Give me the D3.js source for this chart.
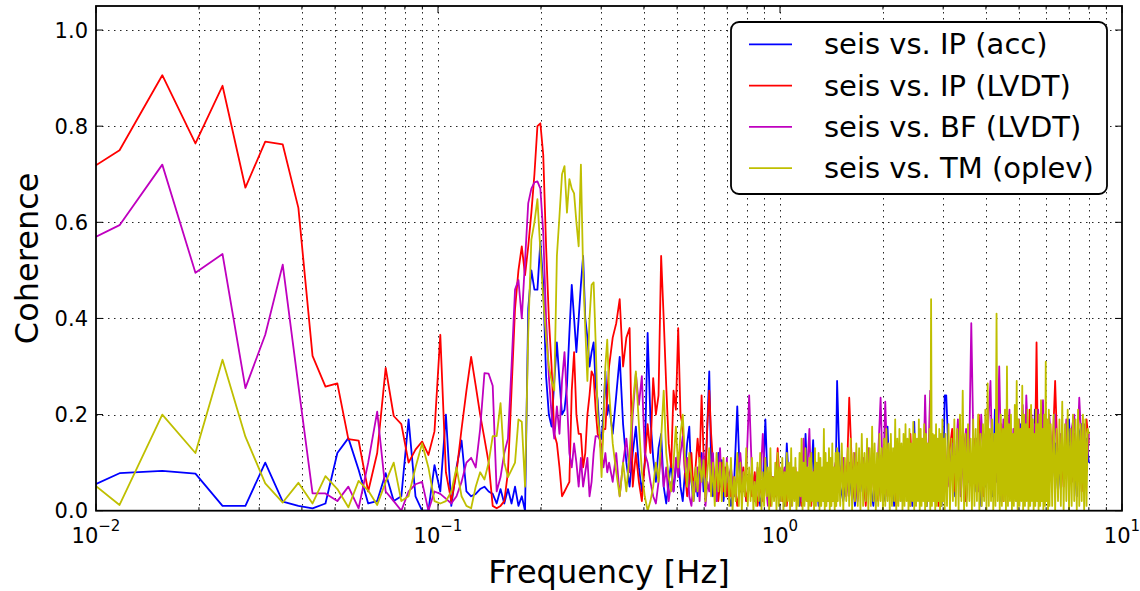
<!DOCTYPE html>
<html>
<head>
<meta charset="utf-8">
<script src="https://cdn.jsdelivr.net/npm/d3@7"></script>
<style>
  body { margin: 0; background: #fff; }
  text { font-family: "DejaVu Sans", sans-serif; fill: #000; }
</style>
</head>
<body>
<div id="chart"></div>
<script>
// coherence spectra, FFT bins of 1/256 Hz --------------------------------------------
var binWidth = 1 / 256;

// low frequency part: one value per bin, bins 2..80
var lowFirstBin = 2;

var blueLow = [0.02,0.078,0.083,0.077,0.01,0.01,0.10,0.019,0.01,0.005,
  0.015,0.12,0.151,0.085,0.015,0.02,0.078,0.02,0.03,0.19,
  0.03,0.0,0.0,0.095,0.04,0.2,0.01,0.09,0.146,0.04,
  0.03,0.035,0.045,0.05,0.04,0.035,0.015,0.045,0.015,0.045,
  0.015,0.05,0.01,0.03,0.0,0.42,0.50,0.46,0.46,0.56,
  0.47,0.28,0.2,0.175,0.27,0.35,0.27,0.2,0.21,0.26,
  0.37,0.47,0.40,0.33,0.40,0.47,0.53,0.40,0.36,0.30,
  0.33,0.35,0.26,0.23,0.16,0.15,0.2,0.29,0.20];

var redLow = [0.67,0.75,0.906,0.764,0.884,0.672,0.768,0.762,0.63,0.322,
  0.258,0.265,0.149,0.146,0.04,0.12,0.297,0.197,0.18,0.10,
  0.127,0.144,0.116,0.165,0.366,0.08,0.02,0.08,0.17,0.25,
  0.32,0.26,0.20,0.15,0.10,0.01,0.005,0.01,0.02,0.08,
  0.25,0.42,0.50,0.55,0.49,0.55,0.62,0.70,0.80,0.806,
  0.74,0.55,0.40,0.30,0.16,0.14,0.09,0.03,0.04,0.05,
  0.06,0.25,0.33,0.20,0.16,0.16,0.09,0.12,0.20,0.24,
  0.29,0.28,0.21,0.16,0.15,0.12,0.17,0.17,0.24];

var magentaLow = [0.533,0.594,0.72,0.495,0.534,0.255,0.366,0.512,0.26,0.036,
  0.036,0.02,0.05,0.005,0.10,0.206,0.04,0.02,0.0,0.04,
  0.055,0.06,0.0,0.04,0.035,0.025,0.015,0.03,0.06,0.10,
  0.11,0.09,0.17,0.286,0.285,0.26,0.04,0.07,0.12,0.15,
  0.30,0.46,0.48,0.40,0.52,0.64,0.67,0.683,0.685,0.67,
  0.578,0.40,0.28,0.20,0.15,0.217,0.16,0.27,0.33,0.23,
  0.12,0.09,0.14,0.10,0.05,0.11,0.05,0.08,0.11,0.03,
  0.06,0.12,0.155,0.155,0.15,0.12,0.09,0.12,0.08];

var yellowLow = [0.112,0.012,0.20,0.12,0.314,0.154,0.057,0.017,0.058,0.015,
  0.072,0.045,0.007,0.062,0.042,0.012,0.06,0.10,0.02,0.03,
  0.09,0.14,0.09,0.02,0.015,0.02,0.04,0.09,0.03,0.01,
  0.005,0.05,0.08,0.065,0.10,0.155,0.155,0.224,0.10,0.07,
  0.085,0.10,0.19,0.185,0.05,0.37,0.564,0.60,0.648,0.54,
  0.44,0.36,0.30,0.27,0.25,0.53,0.613,0.70,0.717,0.62,
  0.69,0.67,0.66,0.60,0.55,0.72,0.50,0.38,0.27,0.40,
  0.47,0.475,0.35,0.20,0.16,0.07,0.18,0.30,0.356];

// dense part (0.32 - 8 Hz): every step-th bin, in blocks
// blue, red, magenta are kept coarser; yellow (drawn on top) finer
var coarseStart = [81, 180, 384, 784, 1600];
var coarseStep  = [2, 4, 8, 16, 32];
var coarseCount = [50, 50, 50, 50, 15];

var fineStart = [81, 180, 380, 780, 1584];
var fineStep  = [2, 2, 4, 8, 16];
var fineCount = [50, 100, 100, 100, 30];

var blueDense = [
  0.22,0.16,0.24,0.32,0.18,0.10,0.05,0.12,0.175,0.09,0.04,0.10,0.37,0.19,0.11,0.06,0.13,0.16,0.05,0.015,
  0.06,0.10,0.04,0.09,0.12,0.05,0.02,0.08,0.14,0.175,0.06,0.02,0.07,0.03,0.09,0.12,0.04,0.08,0.18,0.29,
  0.10,0.03,0.07,0.02,0.12,0.05,0.105,0.02,0.06,0.03,
  0.05,0.01,0.06,0.217,0.04,0.07,0.02,0.05,0.08,0.03,0.06,0.01,0.05,0.19,0.04,0.02,0.07,0.03,0.06,0.04,
  0.05,0.01,0.14,0.05,0.02,0.07,0.03,0.06,0.01,0.05,0.04,0.16,0.06,0.02,0.07,0.147,0.03,0.06,0.01,0.05,
  0.07,0.02,0.06,0.04,0.07,0.01,0.06,0.08,0.03,0.27,
  0.05,0.02,0.08,0.03,0.09,0.01,0.07,0.04,0.10,0.02,0.08,0.05,0.01,0.08,0.03,0.09,0.06,0.02,0.175,0.04,
  0.09,0.01,0.08,0.05,0.10,0.02,0.08,0.03,0.09,0.06,0.01,0.185,0.04,0.10,0.02,0.09,0.05,0.09,0.01,0.10,
  0.03,0.08,0.12,0.02,0.10,0.04,0.09,0.01,0.07,0.24,
  0.24,0.08,0.13,0.03,0.11,0.06,0.15,0.02,0.10,0.07,0.14,0.04,0.12,0.01,0.16,0.05,0.09,0.13,0.03,0.21,
  0.06,0.11,0.02,0.14,0.08,0.17,0.04,0.12,0.07,0.15,0.02,0.10,0.18,0.05,0.13,0.08,0.16,0.03,0.12,0.06,
  0.21,0.09,0.14,0.04,0.17,0.07,0.12,0.03,0.15,0.08,
  0.07,0.14,0.04,0.12,0.08,0.15,0.19,0.06,0.13,0.03,0.16,0.18,0.07,0.15,0.10];

var redDense = [
  0.30,0.36,0.39,0.44,0.30,0.36,0.38,0.05,0.12,0.06,0.02,0.10,0.18,0.12,0.276,0.20,0.24,0.53,0.40,0.26,
  0.14,0.09,0.25,0.21,0.38,0.20,0.175,0.08,0.03,0.06,0.12,0.04,0.09,0.15,0.10,0.24,0.12,0.07,0.18,0.25,
  0.16,0.10,0.03,0.08,0.02,0.06,0.10,0.04,0.09,0.03,
  0.08,0.03,0.07,0.01,0.05,0.09,0.02,0.06,0.03,0.08,0.01,0.05,0.02,0.07,0.04,0.01,0.07,0.03,0.13,0.05,
  0.02,0.06,0.01,0.08,0.03,0.05,0.09,0.02,0.06,0.01,0.04,0.08,0.02,0.05,0.01,0.07,0.09,0.03,0.06,0.02,
  0.08,0.04,0.01,0.07,0.03,0.09,0.02,0.05,0.01,0.08,
  0.06,0.10,0.03,0.235,0.08,0.02,0.10,0.05,0.09,0.01,0.11,0.04,0.09,0.06,0.02,0.10,0.07,0.11,0.03,0.09,
  0.05,0.10,0.01,0.08,0.11,0.04,0.10,0.06,0.02,0.16,0.07,0.11,0.03,0.12,0.05,0.15,0.09,0.02,0.12,0.06,
  0.10,0.03,0.13,0.07,0.11,0.01,0.09,0.12,0.04,0.12,
  0.06,0.12,0.17,0.04,0.10,0.07,0.14,0.02,0.11,0.08,0.15,0.05,0.20,0.09,0.03,0.13,0.06,0.16,0.10,0.04,
  0.14,0.07,0.18,0.02,0.12,0.09,0.16,0.05,0.13,0.08,0.19,0.03,0.14,0.10,0.17,0.06,0.12,0.21,0.04,0.15,
  0.09,0.35,0.07,0.16,0.11,0.05,0.18,0.10,0.14,0.06,
  0.10,0.27,0.08,0.15,0.05,0.17,0.11,0.06,0.16,0.09,0.14,0.04,0.12,0.19,0.14];

var magentaDense = [
  0.10,0.06,0.12,0.03,0.10,0.15,0.08,0.20,0.285,0.22,0.28,0.12,0.10,0.06,0.03,0.015,0.06,0.12,0.05,0.09,
  0.02,0.06,0.04,0.11,0.07,0.12,0.154,0.08,0.11,0.03,0.01,0.06,0.04,0.09,0.02,0.10,0.12,0.01,0.06,0.04,
  0.09,0.12,0.05,0.02,0.08,0.13,0.04,0.09,0.03,0.11,
  0.06,0.09,0.03,0.08,0.12,0.04,0.08,0.24,0.07,0.02,0.09,0.05,0.16,0.06,0.01,0.08,0.03,0.07,0.05,0.02,
  0.07,0.09,0.04,0.08,0.01,0.06,0.08,0.03,0.07,0.02,0.15,0.05,0.09,0.17,0.04,0.08,0.02,0.09,0.05,0.08,
  0.03,0.07,0.09,0.02,0.06,0.08,0.04,0.08,0.10,0.05,
  0.08,0.11,0.03,0.10,0.05,0.12,0.02,0.09,0.11,0.04,0.13,0.06,0.11,0.02,0.12,0.235,0.05,0.227,0.08,0.03,
  0.12,0.06,0.13,0.02,0.10,0.12,0.04,0.13,0.07,0.01,0.12,0.05,0.13,0.03,0.11,0.14,0.06,0.24,0.09,0.13,
  0.25,0.04,0.12,0.07,0.13,0.02,0.10,0.13,0.05,0.15,
  0.10,0.05,0.14,0.08,0.19,0.03,0.12,0.17,0.06,0.39,0.09,0.15,0.04,0.20,0.11,0.07,0.18,0.27,0.05,0.16,
  0.10,0.30,0.08,0.19,0.03,0.14,0.21,0.06,0.17,0.10,0.04,0.19,0.12,0.22,0.07,0.24,0.15,0.05,0.20,0.11,
  0.18,0.06,0.21,0.09,0.15,0.23,0.04,0.17,0.12,0.20,
  0.12,0.20,0.07,0.16,0.10,0.19,0.05,0.17,0.20,0.09,0.235,0.13,0.18,0.08,0.16];

var yellowDense = [
  // 0.32 - 0.70 Hz
  0.25,0.14,0.08,0.03,0.10,0.04,0.12,0.22,0.29,0.18,0.08,0.03,0.0,0.02,0.05,0.10,0.06,0.15,0.25,0.12,
  0.07,0.04,0.10,0.175,0.09,0.16,0.20,0.11,0.05,0.12,0.07,0.02,0.09,0.04,0.11,0.06,0.105,0.02,0.08,0.13,
  0.03,0.10,0.01,0.12,0.04,0.10,0.02,0.11,0.03,0.10,
  // 0.70 - 1.48 Hz
  0.09,0.01,0.11,0.0,0.07,0.02,0.12,0.01,0.10,0.0,0.08,0.03,0.13,0.01,0.09,0.02,0.11,0.0,0.06,0.01,
  0.10,0.02,0.12,0.0,0.08,0.01,0.11,0.03,0.09,0.0,0.13,0.01,0.07,0.02,0.10,0.0,0.12,0.01,0.09,0.02,
  0.11,0.0,0.08,0.01,0.12,0.02,0.10,0.0,0.13,0.01,0.09,0.02,0.11,0.0,0.08,0.01,0.12,0.03,0.15,0.0,
  0.10,0.01,0.13,0.02,0.09,0.0,0.11,0.01,0.12,0.02,0.08,0.0,0.13,0.01,0.10,0.02,0.12,0.0,0.11,0.01,
  0.09,0.02,0.17,0.0,0.12,0.01,0.10,0.02,0.13,0.0,0.11,0.01,0.14,0.02,0.09,0.0,0.12,0.01,0.13,0.02,
  // 1.48 - 3.03 Hz
  0.12,0.01,0.14,0.0,0.11,0.02,0.13,0.01,0.15,0.0,0.12,0.02,0.14,0.01,0.13,0.0,0.16,0.01,0.12,0.02,
  0.15,0.0,0.13,0.01,0.175,0.02,0.14,0.0,0.12,0.01,0.16,0.02,0.13,0.0,0.15,0.01,0.17,0.02,0.14,0.0,
  0.16,0.01,0.13,0.02,0.19,0.0,0.15,0.01,0.17,0.02,0.14,0.0,0.16,0.01,0.18,0.02,0.15,0.0,0.17,0.01,
  0.14,0.02,0.185,0.0,0.16,0.01,0.15,0.02,0.19,0.0,0.17,0.01,0.15,0.02,0.18,0.0,0.16,0.01,0.14,0.02,
  0.17,0.0,0.44,0.01,0.16,0.02,0.157,0.0,0.18,0.01,0.15,0.02,0.17,0.0,0.16,0.01,0.19,0.02,0.15,0.0,
  // 3.05 - 6.14 Hz
  0.16,0.01,0.18,0.0,0.15,0.02,0.19,0.01,0.17,0.0,0.20,0.02,0.25,0.0,0.16,0.01,0.18,0.02,0.15,0.0,
  0.19,0.01,0.17,0.02,0.20,0.0,0.16,0.01,0.18,0.02,0.21,0.0,0.265,0.01,0.17,0.02,0.19,0.0,0.16,0.01,
  0.41,0.02,0.18,0.0,0.20,0.01,0.17,0.02,0.21,0.0,0.30,0.01,0.18,0.02,0.20,0.0,0.16,0.01,0.22,0.02,
  0.27,0.0,0.19,0.01,0.17,0.02,0.26,0.0,0.20,0.01,0.18,0.02,0.21,0.0,0.17,0.01,0.22,0.02,0.19,0.0,
  0.16,0.01,0.21,0.02,0.18,0.0,0.20,0.01,0.23,0.02,0.17,0.0,0.20,0.01,0.31,0.02,0.19,0.0,0.21,0.01,
  // 6.19 - 8.0 Hz
  0.18,0.01,0.20,0.0,0.17,0.02,0.19,0.01,0.227,0.0,0.18,0.02,0.21,0.0,0.17,0.01,0.20,0.02,0.19,0.0,
  0.21,0.01,0.18,0.02,0.20,0.0,0.19,0.01,0.17,0.16];

var seriesNames = ["seis vs. IP (acc)", "seis vs. IP (LVDT)", "seis vs. BF (LVDT)", "seis vs. TM (oplev)"];
var seriesColors = ["#0000ff", "#ff0000", "#bf00bf", "#bfbf00"];
var seriesLow = [blueLow, redLow, magentaLow, yellowLow];
var seriesDense = [blueDense, redDense, magentaDense, yellowDense];

var yTickValues = [0, 0.2, 0.4, 0.6, 0.8, 1.0];
var xLabelExp = ["−2", "−1", "0", "1"];

// bin numbers of the dense points
function blockBins(starts, steps, counts) {
  var bins = [];
  starts.forEach(function(s, j) {
    d3.range(counts[j]).forEach(function(i) { bins.push(s + steps[j] * i); });
  });
  return bins;
}
var coarseBins = blockBins(coarseStart, coarseStep, coarseCount);
var fineBins = blockBins(fineStart, fineStep, fineCount);
var seriesBins = [coarseBins, coarseBins, coarseBins, fineBins];

function toPoints(low, dense, bins) {
  var pts = low.map(function(v, i) { return {f: (lowFirstBin + i) * binWidth, v: v}; });
  return pts.concat(dense.map(function(v, i) { return {f: bins[i] * binWidth, v: v}; }));
}

// layout ------------------------------------------------------------------------------
var width = 1140, height = 591;
var plotL = 96, plotR = 1122, plotT = 6, plotB = 510.7;

var svg = d3.select("#chart").append("svg")
    .attr("width", width)
    .attr("height", height);

svg.append("rect").attr("width", width).attr("height", height).attr("fill", "#fff");

var x = d3.scaleLog().domain([0.01, 10]).range([plotL, plotR]);
var y = d3.scaleLinear().domain([0, 1.05]).range([plotB, plotT]);

svg.append("clipPath").attr("id", "plotclip")
  .append("rect")
    .attr("x", plotL).attr("y", plotT)
    .attr("width", plotR - plotL).attr("height", plotB - plotT);

var xTicks = x.ticks();   // 0.01, 0.02 ... 10
var isMajor = function(d) { return Math.abs(Math.log10(d) - Math.round(Math.log10(d))) < 1e-6; };

// grid (dotted)
var grid = svg.append("g").attr("stroke", "#000").attr("stroke-width", 1)
    .attr("stroke-dasharray", "1.5,4.5").attr("opacity", 0.85);

grid.selectAll("line.gx")
  .data(xTicks.filter(function(d) { return d > 0.011 && d < 9.9; }))
  .enter().append("line")
    .attr("class", "gx")
    .attr("x1", function(d) { return Math.round(x(d)) + 0.5; })
    .attr("x2", function(d) { return Math.round(x(d)) + 0.5; })
    .attr("y1", plotT).attr("y2", plotB);

grid.selectAll("line.gy")
  .data(yTickValues.slice(1))
  .enter().append("line")
    .attr("class", "gy")
    .attr("x1", plotL).attr("x2", plotR)
    .attr("y1", function(d) { return Math.round(y(d)) + 0.5; })
    .attr("y2", function(d) { return Math.round(y(d)) + 0.5; });

// data lines
var line = d3.line()
    .x(function(d) { return x(d.f); })
    .y(function(d) { return y(d.v); });

svg.append("g").attr("clip-path", "url(#plotclip)")
  .selectAll("path")
  .data(seriesLow.map(function(low, i) { return toPoints(low, seriesDense[i], seriesBins[i]); }))
  .enter().append("path")
    .attr("d", line)
    .attr("fill", "none")
    .attr("stroke", function(d, i) { return seriesColors[i]; })
    .attr("stroke-width", 1.8)
    .attr("stroke-linejoin", "round");

// ticks, pointing inward on all four sides
var ticks = svg.append("g").attr("stroke", "#000").attr("stroke-width", 1);

xTicks.forEach(function(d) {
  var len = isMajor(d) ? 7 : 3.5;
  var px = x(d);
  ticks.append("line").attr("x1", px).attr("x2", px).attr("y1", plotB).attr("y2", plotB - len);
  ticks.append("line").attr("x1", px).attr("x2", px).attr("y1", plotT).attr("y2", plotT + len);
});
yTickValues.forEach(function(d) {
  var py = y(d);
  ticks.append("line").attr("x1", plotL).attr("x2", plotL + 7).attr("y1", py).attr("y2", py);
  ticks.append("line").attr("x1", plotR).attr("x2", plotR - 7).attr("y1", py).attr("y2", py);
});

// frame
svg.append("rect")
    .attr("x", plotL).attr("y", plotT)
    .attr("width", plotR - plotL).attr("height", plotB - plotT)
    .attr("fill", "none").attr("stroke", "#000").attr("stroke-width", 1.8);

// tick labels
svg.selectAll("text.ylab")
  .data(yTickValues)
  .enter().append("text")
    .attr("class", "ylab")
    .attr("x", plotL - 8)
    .attr("y", function(d) { return y(d); })
    .attr("dy", "0.36em")
    .attr("text-anchor", "end")
    .style("font-size", "21px")
    .text(function(d) { return d3.format(".1f")(d); });

var xl = svg.selectAll("text.xlab")
  .data(xTicks.filter(isMajor))
  .enter().append("text")
    .attr("class", "xlab")
    .attr("x", function(d) { return x(d); })
    .attr("y", 542.5)
    .attr("text-anchor", "middle")
    .style("font-size", "21px");
xl.append("tspan").text("10");
xl.append("tspan")
    .attr("dy", -12)
    .style("font-size", "15px")
    .text(function(d, i) { return xLabelExp[i]; });

// axis labels
svg.append("text")
    .attr("x", (plotL + plotR) / 2)
    .attr("y", 583)
    .attr("text-anchor", "middle")
    .style("font-size", "32px")
    .text("Frequency [Hz]");

svg.append("text")
    .attr("transform", "translate(38," + (plotT + plotB) / 2 + ") rotate(-90)")
    .attr("text-anchor", "middle")
    .style("font-size", "32px")
    .text("Coherence");

// legend
var legend = svg.append("g");
legend.append("rect")
    .attr("x", 731).attr("y", 22)
    .attr("width", 376).attr("height", 172)
    .attr("rx", 8)
    .attr("fill", "#fff").attr("stroke", "#000").attr("stroke-width", 1.8);

var rows = legend.selectAll("g.row")
  .data(seriesNames)
  .enter().append("g")
    .attr("class", "row")
    .attr("transform", function(d, i) { return "translate(0," + (44.3 + i * 41.3) + ")"; });

rows.append("line")
    .attr("x1", 749).attr("x2", 792)
    .attr("stroke", function(d, i) { return seriesColors[i]; })
    .attr("stroke-width", 1.8);

rows.append("text")
    .attr("x", 824)
    .attr("y", 10)
    .style("font-size", "29px")
    .text(function(d) { return d; });
</script>
</body>
</html>
